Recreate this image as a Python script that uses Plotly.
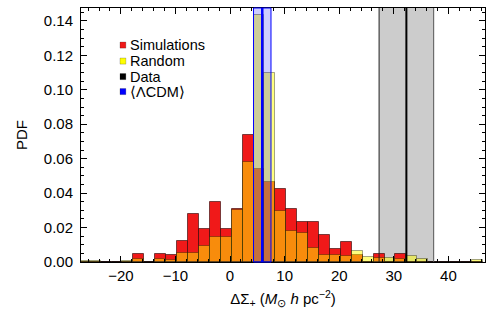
import plotly.graph_objects as go

# bin centres (width 2)
centers = [-26.7 + 2 * i for i in range(37)]
sim = {-16.7: 0.0045, -12.7: 0.0045, -10.7: 0.004, -8.7: 0.0123, -6.7: 0.0278,
       -4.7: 0.0194, -2.7: 0.035, -0.7: 0.0194, 1.3: 0.031, 3.3: 0.0735,
       5.3: 0.054, 7.3: 0.0467, 9.3: 0.0426, 11.3: 0.031, 13.3: 0.0233,
       15.3: 0.0233, 17.3: 0.0156, 19.3: 0.0078, 21.3: 0.0117, 23.3: 0.0041,
       27.3: 0.0045, 31.3: 0.0045}
rnd = {-26.7: 0.0005, -24.7: 0.0005, -18.7: 0.0005, -16.7: 0.002, -12.7: 0.002,
       -10.7: 0.0012, -8.7: 0.005, -6.7: 0.0055, -4.7: 0.0095, -2.7: 0.0146,
       -0.7: 0.0146, 1.3: 0.030, 3.3: 0.0583, 5.3: 0.1435, 7.3: 0.110,
       9.3: 0.0295, 11.3: 0.018, 13.3: 0.0169, 15.3: 0.0082, 17.3: 0.0039,
       19.3: 0.0039, 21.3: 0.0035, 23.3: 0.0063, 25.3: 0.0029, 27.3: 0.0025,
       29.3: 0.0025, 31.3: 0.002, 33.3: 0.0033, 35.3: 0.002, 45.3: 0.001}
sim_values = [sim.get(round(c, 1), 0) for c in centers]
rnd_values = [rnd.get(round(c, 1), 0) for c in centers]

data_value, data_err = 32.3, 5.0
lcdm_value, lcdm_err = 5.9, 1.6

legend_labels = ["Simulations", "Random", "Data", "⟨ΛCDM⟩"]
legend_colors = ["rgb(240,25,25)", "rgb(255,255,0)", "black", "blue"]

fig = go.Figure()
fig.add_trace(go.Bar(x=centers, y=sim_values, width=2,
                     marker=dict(color="rgb(240,25,25)", line=dict(color="rgba(40,0,0,0.6)", width=1)),
                     showlegend=False))
fig.add_trace(go.Bar(x=centers, y=rnd_values, width=2,
                     marker=dict(color="rgba(255,255,0,0.5)", line=dict(color="rgba(0,0,0,0.35)", width=1)),
                     showlegend=False))

# data band (below bars)
fig.add_shape(type="rect", x0=data_value - data_err, x1=data_value + data_err, y0=0, y1=1,
              xref="x", yref="paper", layer="below", fillcolor="#cccccc", line=dict(width=0))
for xv, w, c in [(data_value - data_err, 1, "#222"), (data_value + data_err, 1, "#555"), (data_value, 2, "black")]:
    fig.add_shape(type="line", x0=xv, x1=xv, y0=0, y1=1, xref="x", yref="paper",
                  line=dict(color=c, width=w))
# LCDM band (above bars)
fig.add_shape(type="rect", x0=lcdm_value - lcdm_err, x1=lcdm_value + lcdm_err, y0=0, y1=1,
              xref="x", yref="paper", layer="above", fillcolor="rgba(0,0,255,0.2)",
              line=dict(color="blue", width=1))
fig.add_shape(type="line", x0=lcdm_value, x1=lcdm_value, y0=0, y1=1, xref="x", yref="paper",
              line=dict(color="blue", width=2.5))

# legend
ys = [0.854, 0.791, 0.730, 0.671]
for lab, col, yv in zip(legend_labels, legend_colors, ys):
    fig.add_shape(type="rect", xref="paper", yref="paper", x0=0.0965, x1=0.111,
                  y0=yv - 0.012, y1=yv + 0.012, fillcolor=col, line=dict(color="rgba(0,0,0,0.4)", width=0.5))
    fig.add_annotation(xref="paper", yref="paper", x=0.116, y=yv, text=lab, showarrow=False,
                       xanchor="left", yanchor="middle", font=dict(size=14.5, color="black"))

axis_common = dict(showline=True, linecolor="black", linewidth=1, mirror="allticks",
                   ticks="inside", ticklen=6, tickcolor="black", showgrid=False, zeroline=False,
                   tickfont=dict(size=15, color="black"))
fig.update_xaxes(range=[-27.3, 46.7], tickvals=[-20, -10, 0, 10, 20, 30, 40],
                 ticktext=["−20", "−10", "0", "10", "20", "30", "40"],
                 minor=dict(dtick=2, ticks="inside", ticklen=3, tickcolor="black", tick0=0),
                 title=dict(text="ΔΣ<sub>+</sub> (<i>M</i><sub>⊙</sub> <i>h</i> pc<sup>−2</sup>)",
                            font=dict(size=15, color="black"), standoff=10),
                 **axis_common)
fig.update_yaxes(range=[0, 0.1475], tickvals=[0, 0.02, 0.04, 0.06, 0.08, 0.10, 0.12, 0.14],
                 tickformat=".2f",
                 minor=dict(dtick=0.005, ticks="inside", ticklen=3, tickcolor="black", tick0=0),
                 title=dict(text="PDF", font=dict(size=15, color="black"), standoff=12),
                 ticklabelstandoff=4,
                 **axis_common)
fig.update_layout(width=488, height=321, barmode="overlay", bargap=0,
                  margin=dict(l=81, r=3, t=8, b=59),
                  plot_bgcolor="white", paper_bgcolor="white",
                  font=dict(family="Liberation Sans, Arial, sans-serif", color="black"),
                  showlegend=False)
fig.write_html("out.html")
